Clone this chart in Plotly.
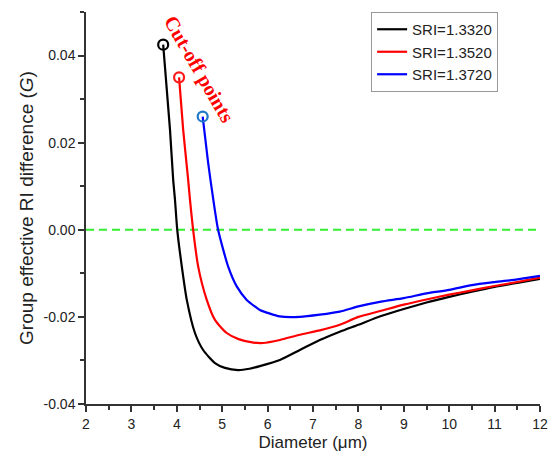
import plotly.graph_objects as go

# ---- data ----
sri_labels = ["SRI=1.3320", "SRI=1.3520", "SRI=1.3720"]

x_1332 = [3.70, 3.85, 3.92, 3.96, 4.01, 4.11, 4.22, 4.40, 4.58, 4.84, 5.06, 5.35, 5.60, 5.83,
          6.27, 6.71, 7.15, 7.59, 8.00, 8.50, 9.00, 9.50, 10.00, 10.50, 11.00, 11.50, 12.00]
y_1332 = [0.0425, 0.0230, 0.0115, 0.0069, 0.0000, -0.0084, -0.0161, -0.0237, -0.0276, -0.0306,
          -0.0317, -0.0322, -0.0319, -0.0313, -0.0299, -0.0276, -0.0253, -0.0234, -0.0218,
          -0.0198, -0.0182, -0.0167, -0.0154, -0.0142, -0.0131, -0.0122, -0.0113]

x_1352 = [4.05, 4.14, 4.25, 4.29, 4.36, 4.47, 4.66, 4.84, 5.10, 5.36, 5.69, 5.90, 6.27, 6.71,
          7.15, 7.59, 8.00, 8.50, 9.00, 9.50, 10.00, 10.50, 11.00, 11.50, 12.00]
y_1352 = [0.0350, 0.0230, 0.0115, 0.0069, 0.0000, -0.0084, -0.0161, -0.0207, -0.0237, -0.0251,
          -0.0259, -0.0260, -0.0253, -0.0241, -0.0231, -0.0218, -0.0200, -0.0186, -0.0172,
          -0.0160, -0.0149, -0.0139, -0.0129, -0.0120, -0.0110]

x_1372 = [4.57, 4.69, 4.80, 4.91, 5.13, 5.32, 5.54, 5.72, 5.83, 6.27, 6.71, 7.15, 7.59, 8.00,
          8.50, 9.00, 9.50, 10.00, 10.50, 11.00, 11.50, 12.00]
y_1372 = [0.0260, 0.0154, 0.0072, 0.0000, -0.0084, -0.0130, -0.0161, -0.0176, -0.0184, -0.0199,
          -0.0200, -0.0195, -0.0188, -0.0176, -0.0165, -0.0157, -0.0146, -0.0138, -0.0127,
          -0.0120, -0.0114, -0.0106]

ref_level = 0.0
x_ticks = [2, 3, 4, 5, 6, 7, 8, 9, 10, 11, 12]
y_ticks = [-0.04, -0.02, 0.00, 0.02, 0.04]
y_tick_labels = ["-0.04", "-0.02", "0.00", "0.02", "0.04"]

series = [
    (x_1332, y_1332, sri_labels[0], "#000000", "#000000"),
    (x_1352, y_1352, sri_labels[1], "#ff0000", "#ff1a1a"),
    (x_1372, y_1372, sri_labels[2], "#0000ff", "#1f78c8"),
]

fig = go.Figure()

fig.add_hline(y=ref_level, line=dict(color="#33ee33", width=2, dash="8px,5px"), layer="below")

for xs, ys, name, col, mcol in series:
    fig.add_trace(go.Scatter(
        x=xs, y=ys, mode="lines", name=name,
        line=dict(color=col, width=2.2, shape="spline", smoothing=0.6),
    ))
for xs, ys, name, col, mcol in series:
    fig.add_trace(go.Scatter(
        x=xs[:1], y=ys[:1], mode="markers", showlegend=False,
        marker=dict(symbol="circle-open", size=10, color=mcol, line=dict(width=2.2, color=mcol)),
    ))

fig.add_annotation(
    x=4.49, y=0.0368, xref="x", yref="y",
    text="<b>Cut-off points</b>", showarrow=False, textangle=60,
    font=dict(family="Liberation Serif, Times New Roman, serif", size=20, color="#ff0000"),
)

axis_common = dict(
    showline=True, linecolor="#333333", linewidth=1.5,
    ticks="outside", ticklen=6, tickwidth=1.5, tickcolor="#333333",
    showgrid=False, zeroline=False, mirror=False, automargin=False,
    tickfont=dict(family="Liberation Sans, Arial, sans-serif", size=14, color="#222222"),
)

fig.update_xaxes(
    range=[2, 12], tickvals=x_ticks,
    minor=dict(dtick=0.5, ticklen=4, tickwidth=1.5, tickcolor="#333333", ticks="outside", showgrid=False),
    title=dict(text="Diameter (μm)", standoff=8,
               font=dict(family="Liberation Sans, Arial, sans-serif", size=17, color="#222222")),
    **axis_common,
)
fig.update_yaxes(
    range=[-0.04, 0.05], tickvals=y_ticks, ticktext=y_tick_labels,
    minor=dict(dtick=0.01, ticklen=4, tickwidth=1.5, tickcolor="#333333", ticks="outside", showgrid=False),
    title=dict(text="Group effective RI difference (<i>G</i>)", standoff=5,
               font=dict(family="Liberation Sans, Arial, sans-serif", size=19, color="#222222")),
    **axis_common,
)

fig.update_layout(
    width=543, height=444,
    margin=dict(l=78, r=11, t=4, b=48),
    paper_bgcolor="white", plot_bgcolor="white",
    legend=dict(
        x=0.628, y=1.0, xanchor="left", yanchor="top",
        bordercolor="#999999", borderwidth=1, bgcolor="white",
        font=dict(family="Liberation Sans, Arial, sans-serif", size=15, color="#222222"),
        itemwidth=30, tracegroupgap=0,
    ),
    showlegend=True,
)

fig.write_html("out.html")
